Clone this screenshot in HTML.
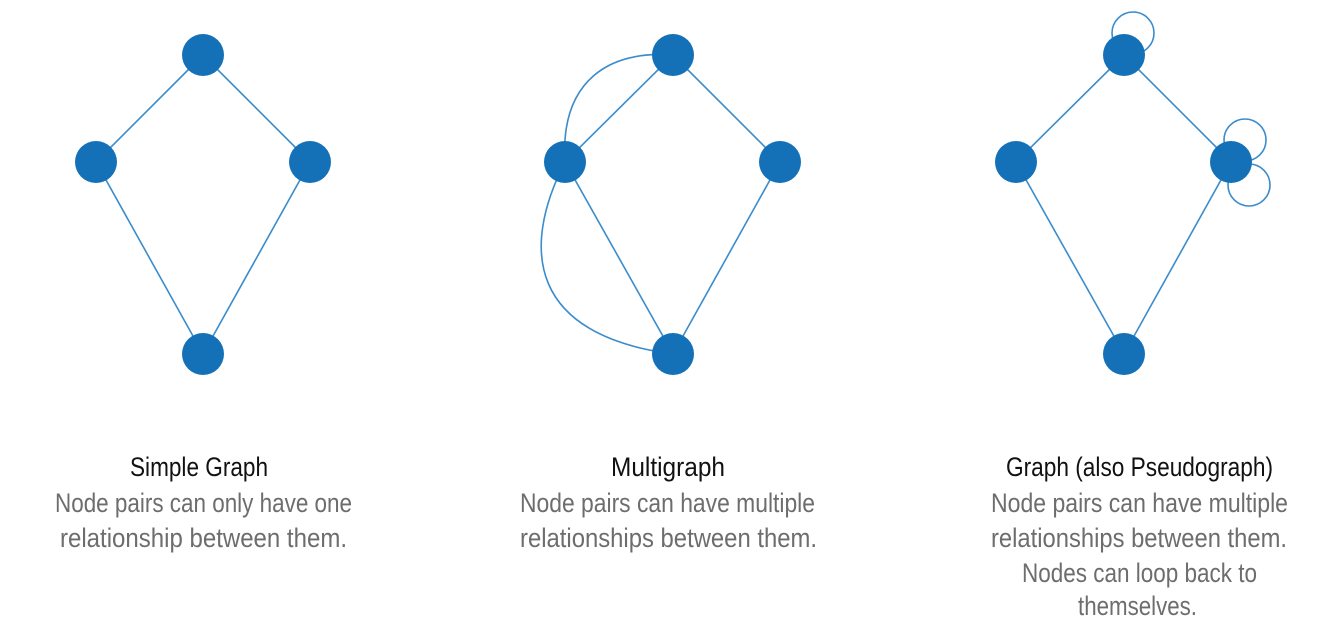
<!DOCTYPE html>
<html><head><style>body{margin:0;background:#fff}</style></head><body>
<svg width="1337" height="633" viewBox="0 0 1337 633" xmlns="http://www.w3.org/2000/svg">
<g stroke="#3a8ccc" stroke-width="1.6" fill="none">
<path d="M203,55 L96,162 L203,354 L310,162 Z"/>
<path d="M673,55 L565,162 L673,354 L780,162 Z"/>
<path d="M673,55 C610,50 560,80 565,162"/>
<path d="M565,162 C520,250 530,335 673,354"/>
<path d="M1124,55 L1016,162 L1124,354 L1231,162 Z"/>
<circle cx="1133" cy="33" r="21"/>
<circle cx="1245" cy="140" r="21"/>
<circle cx="1249" cy="185" r="21"/>
</g>
<g fill="#1471b8">
<circle cx="203" cy="55" r="21"/><circle cx="96" cy="162" r="21"/><circle cx="310" cy="162" r="21"/><circle cx="203" cy="354" r="21"/>
<circle cx="673" cy="55" r="21"/><circle cx="565" cy="162" r="21"/><circle cx="780" cy="162" r="21"/><circle cx="673" cy="354" r="21"/>
<circle cx="1124" cy="55" r="21"/><circle cx="1016" cy="162" r="21"/><circle cx="1231" cy="162" r="21"/><circle cx="1124" cy="354" r="21"/>
</g>
<g font-family="'Liberation Sans Narrow','Liberation Sans',sans-serif" font-size="27">
<text x="130" y="476" textLength="138" lengthAdjust="spacingAndGlyphs" fill="#111">Simple Graph</text>
<text x="611" y="476" textLength="114" lengthAdjust="spacingAndGlyphs" fill="#111">Multigraph</text>
<text x="1006" y="476" textLength="267" lengthAdjust="spacingAndGlyphs" fill="#111">Graph (also Pseudograph)</text>
<g fill="#6d6d6d">
<text x="55" y="512" textLength="297" lengthAdjust="spacingAndGlyphs">Node pairs can only have one</text>
<text x="60" y="547" textLength="287" lengthAdjust="spacingAndGlyphs">relationship between them.</text>
<text x="520" y="512" textLength="295" lengthAdjust="spacingAndGlyphs">Node pairs can have multiple</text>
<text x="520" y="547" textLength="297" lengthAdjust="spacingAndGlyphs">relationships between them.</text>
<text x="991" y="512" textLength="297" lengthAdjust="spacingAndGlyphs">Node pairs can have multiple</text>
<text x="991" y="547" textLength="296" lengthAdjust="spacingAndGlyphs">relationships between them.</text>
<text x="1022" y="582" textLength="235" lengthAdjust="spacingAndGlyphs">Nodes can loop back to</text>
<text x="1078" y="615" textLength="119" lengthAdjust="spacingAndGlyphs">themselves.</text>
</g>
</g>
</svg>
</body></html>
